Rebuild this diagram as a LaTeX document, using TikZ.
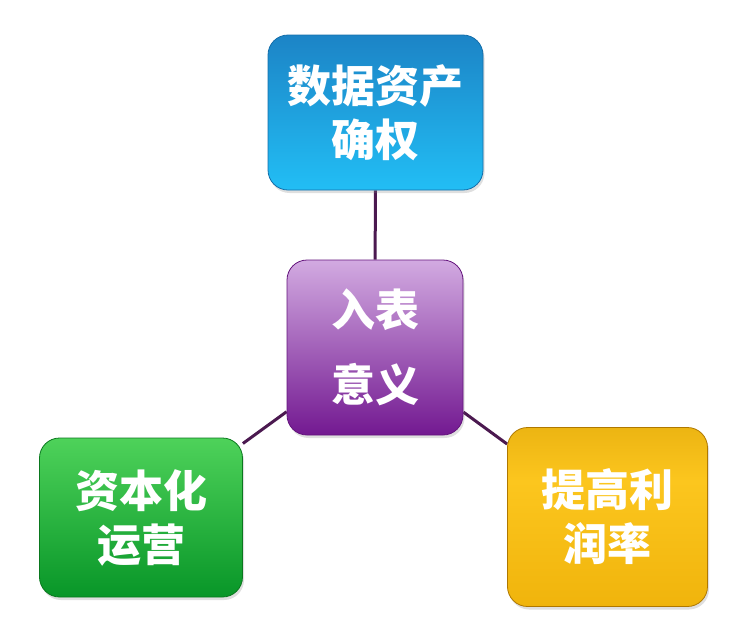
\documentclass[tikz,border=0pt]{standalone}
\usepackage{fontspec}
\newfontfamily\cjk{Noto Sans CJK SC}
\usetikzlibrary{shadows,backgrounds}
\definecolor{linec}{RGB}{75,25,80}
\definecolor{bluedraw}{RGB}{20,110,170}
\definecolor{bluetop}{RGB}{28,132,198}
\definecolor{bluebot}{RGB}{34,190,245}
\definecolor{purdraw}{RGB}{100,20,125}
\definecolor{purtop}{RGB}{210,170,225}
\definecolor{purbot}{RGB}{115,25,145}
\definecolor{grndraw}{RGB}{10,120,30}
\definecolor{grntop}{RGB}{78,210,90}
\definecolor{grnbot}{RGB}{8,150,40}
\definecolor{golddraw}{RGB}{175,120,0}
\definecolor{goldA}{RGB}{210,152,0}
\definecolor{goldB}{RGB}{252,198,30}
\definecolor{goldC}{RGB}{240,180,12}
\definecolor{goldD}{RGB}{205,148,0}
\pgfdeclareverticalshading{goldshade}{100bp}{
  color(0bp)=(goldD);
  color(25bp)=(goldC);
  color(60bp)=(goldB);
  color(100bp)=(goldA)}
\tikzset{
  card/.style={rounded corners=20pt, draw=#1, line width=0.8pt, text=white,
    font=\cjk\bfseries\fontsize{44}{54}\selectfont, align=center, inner sep=0pt,
    drop shadow={opacity=0.25, shadow xshift=1.5pt, shadow yshift=-3pt}},
  conn/.style={draw=linec, line width=3pt}
}
\begin{document}
\begin{tikzpicture}[x=1pt,y=-1pt]
\useasboundingbox (0,0) rectangle (732,638);
\node[card=bluedraw, minimum width=215pt, minimum height=155pt,
  top color=bluetop, bottom color=bluebot]
  (blue) at (375.5,112.5) {数据资产\\确权};
\node[card=purdraw, minimum width=176pt, minimum height=175pt,
  top color=purtop, bottom color=purbot,
  font=\cjk\bfseries\fontsize{44}{75}\selectfont]
  (purple) at (375,347.5) {入表\\意义};
\node[card=grndraw, minimum width=203pt, minimum height=159pt,
  top color=grntop, bottom color=grnbot]
  (green) at (141,517.5) {资本化\\运营};
\node[card=golddraw, minimum width=200pt, minimum height=179pt,
  shading=goldshade]
  (gold) at (607.5,517) {提高利\\润率};
\begin{scope}[on background layer]
\draw[conn] (blue) -- (purple);
\draw[conn] (purple) -- (green);
\draw[conn] (purple) -- (gold);
\end{scope}
\end{tikzpicture}
\end{document}
